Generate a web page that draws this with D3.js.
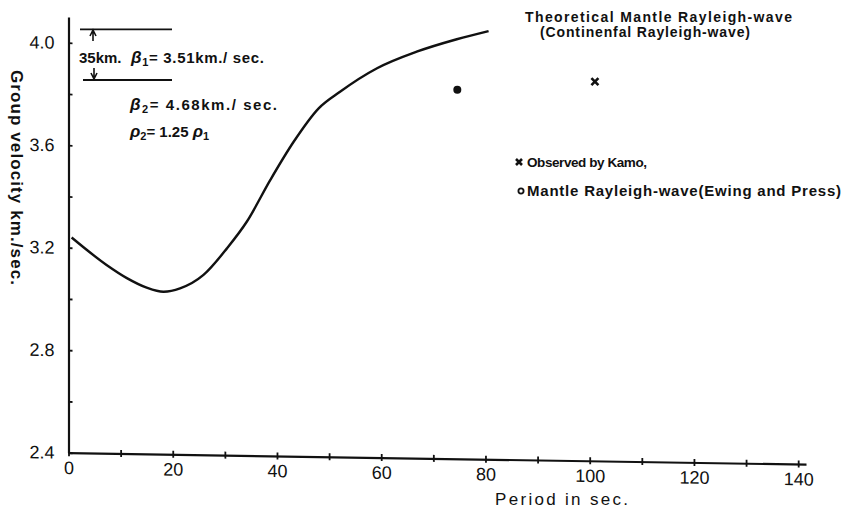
<!DOCTYPE html>
<html>
<head>
<meta charset="utf-8">
<script src="https://cdn.jsdelivr.net/npm/d3@7"></script>
<style>
   body { margin: 0; background: #fff; }
   svg { display: block; }
   text { font-family: "Liberation Sans", Arial, sans-serif; fill: #111; font-weight: bold; }
</style>
</head>
<body>
<svg width="844" height="512"></svg>
<script>
// theoretical mantle Rayleigh-wave curve (period s, group velocity km/s)
var periods = [0.6, 7.3, 11.2, 15.0, 18.2, 21.4, 25.9, 30.4, 34.2, 38.7, 43.2, 48.0, 52.1, 59.2, 66.8, 74.5, 80.6];
var velocities = [3.24, 3.135, 3.085, 3.049, 3.034, 3.048, 3.102, 3.207, 3.312, 3.476, 3.627, 3.759, 3.825, 3.919, 3.986, 4.037, 4.071];

// observations
var kamoPeriods = [101];
var kamoVelocities = [3.88];
var ewingPeriods = [74.6];
var ewingVelocities = [3.84];

// axes
var xTicks = [0, 10, 20, 30, 40, 50, 60, 70, 80, 90, 100, 110, 120, 130, 140];
var xTickLabels = [0, 20, 40, 60, 80, 100, 120, 140];
var yTicks = [2.4, 2.6, 2.8, 3.0, 3.2, 3.4, 3.6, 3.8, 4.0];
var yTickLabels = [2.4, 2.8, 3.2, 3.6, 4.0];

var svg = d3.select("svg");

// the scanned figure is tilted a little: skew the plot so the x axis drops to the right
var skew = 0.0155, x0 = 68.5;
var plot = svg.append("g")
   .attr("transform", "matrix(1," + skew + ",0,1,0," + (-skew * x0) + ")");

var x = d3.scaleLinear().domain([0, 141.5]).range([x0, 806]);
var y = d3.scaleLinear().domain([2.4, 4.1]).range([452.7, 17.1]);

// x axis
var xAxis = plot.append("g")
   .attr("transform", "translate(0," + y(2.4) + ")")
   .call(d3.axisBottom(x)
      .tickValues(xTicks)
      .tickSizeOuter(0)
      .tickSizeInner(3.5)
      .tickPadding(5)
      .tickFormat(function (d) { return xTickLabels.indexOf(d) >= 0 ? d : ""; }));
xAxis.select(".domain").attr("stroke", "#111").attr("stroke-width", 2.2);
xAxis.selectAll(".tick line").attr("y1", -3.5).attr("stroke", "#111").attr("stroke-width", 1.8);
xAxis.selectAll(".tick text")
   .style("font-family", "Liberation Sans, Arial, sans-serif")
   .style("font-size", "18px")
   .style("font-weight", "normal")
   .attr("fill", "#111");

// y axis
var yAxis = plot.append("g")
   .attr("transform", "translate(" + x0 + ",0)")
   .call(d3.axisLeft(y)
      .tickValues(yTicks)
      .tickSizeOuter(0)
      .tickSizeInner(4)
      .tickPadding(10)
      .tickFormat(function (d) {
         return yTickLabels.some(function (v) { return Math.abs(v - d) < 1e-6; }) ? d3.format(".1f")(d) : "";
      }));
yAxis.select(".domain").attr("stroke", "#111").attr("stroke-width", 2.2);
yAxis.selectAll(".tick line").attr("x2", 4).attr("stroke", "#111").attr("stroke-width", 1.8);
yAxis.selectAll(".tick text")
   .style("font-family", "Liberation Sans, Arial, sans-serif")
   .style("font-size", "18px")
   .style("font-weight", "normal")
   .attr("fill", "#111");

// theoretical curve
var line = d3.line()
   .x(function (d, i) { return x(periods[i]); })
   .y(function (d, i) { return y(velocities[i]); })
   .curve(d3.curveMonotoneX);

plot.append("path")
   .datum(periods)
   .attr("d", line)
   .attr("fill", "none")
   .attr("stroke", "#111")
   .attr("stroke-width", 2.4);

// Ewing and Press point
plot.selectAll(".ewing")
   .data(ewingPeriods)
   .enter().append("circle")
   .attr("class", "ewing")
   .attr("cx", function (d) { return x(d); })
   .attr("cy", function (d, i) { return y(ewingVelocities[i]); })
   .attr("r", 4)
   .attr("fill", "#111");

// Kamo point
function cross(g, s) {
   g.append("path")
      .attr("d", "M" + (-s) + "," + (-s) + "L" + s + "," + s + "M" + s + "," + (-s) + "L" + (-s) + "," + s)
      .attr("stroke", "#111")
      .attr("stroke-width", 2.6)
      .attr("fill", "none");
}

plot.selectAll(".kamo")
   .data(kamoPeriods)
   .enter().append("g")
   .attr("class", "kamo")
   .attr("transform", function (d, i) { return "translate(" + x(d) + "," + y(kamoVelocities[i]) + ")"; })
   .each(function () { cross(d3.select(this), 3.5); });

// axis titles
svg.append("text")
   .attr("transform", "translate(11,70) rotate(90)")
   .attr("textLength", 215)
   .style("font-size", "17px")
   .text("Group velocity km./sec.");

svg.append("text")
   .attr("x", 495)
   .attr("y", 505)
   .attr("textLength", 133)
   .style("font-size", "17px")
   .style("font-weight", "normal")
   .text("Period  in sec.");

// layer annotation
var ann = svg.append("g");
ann.append("line").attr("x1", 80).attr("x2", 172).attr("y1", 29.3).attr("y2", 29.3)
   .attr("stroke", "#111").attr("stroke-width", 1.8);
ann.append("line").attr("x1", 83).attr("x2", 172).attr("y1", 80).attr("y2", 80)
   .attr("stroke", "#111").attr("stroke-width", 1.8);
ann.append("path").attr("d", "M93,41L93,32M90,36L93,30L96,36")
   .attr("stroke", "#111").attr("stroke-width", 1.6).attr("fill", "none");
ann.append("path").attr("d", "M94,68L94,77M91,73L94,79L97,73")
   .attr("stroke", "#111").attr("stroke-width", 1.6).attr("fill", "none");

var annText = ann.append("g").style("font-size", "15px");
annText.append("text").attr("x", 79).attr("y", 63).text("35km.");
var t1 = annText.append("text").attr("x", 131).attr("y", 63).attr("textLength", 133);
t1.append("tspan").style("font-style", "italic").style("font-size", "17px").text("β");
t1.append("tspan").attr("dy", 3).style("font-size", "11px").text("1");
t1.append("tspan").attr("dy", -3).text("= 3.51km./ sec.");

var t2 = annText.append("text").attr("x", 130).attr("y", 110).attr("textLength", 147);
t2.append("tspan").style("font-style", "italic").style("font-size", "17px").text("β");
t2.append("tspan").attr("dy", 3).style("font-size", "11px").text("2");
t2.append("tspan").attr("dy", -3).text("= 4.68km./ sec.");

var t3 = annText.append("text").attr("x", 130).attr("y", 137);
t3.append("tspan").style("font-style", "italic").style("font-size", "17px").text("ρ");
t3.append("tspan").attr("dy", 3).style("font-size", "11px").text("2");
t3.append("tspan").attr("dy", -3).text("= 1.25 ");
t3.append("tspan").style("font-style", "italic").style("font-size", "17px").text("ρ");
t3.append("tspan").attr("dy", 3).style("font-size", "11px").text("1");

// curve title
var title = svg.append("g").style("font-size", "14px");
title.append("text").attr("x", 525).attr("y", 22).attr("textLength", 267).text("Theoretical Mantle Rayleigh-wave");
title.append("text").attr("x", 540).attr("y", 37).attr("textLength", 210).text("(Continenfal Rayleigh-wave)");

// legend
var legend = svg.append("g").style("font-size", "15px");
var lx = legend.append("g").attr("transform", "translate(519,162)");
cross(lx, 3);
legend.append("text").attr("x", 527).attr("y", 167).attr("textLength", 120)
   .style("font-size", "13.5px").text("Observed by Kamo,");
legend.append("circle").attr("cx", 521).attr("cy", 191).attr("r", 2.6)
   .attr("fill", "none").attr("stroke", "#111").attr("stroke-width", 1.8);
legend.append("text").attr("x", 527).attr("y", 196).attr("textLength", 314).text("Mantle Rayleigh-wave(Ewing and Press)");
</script>
</body>
</html>
